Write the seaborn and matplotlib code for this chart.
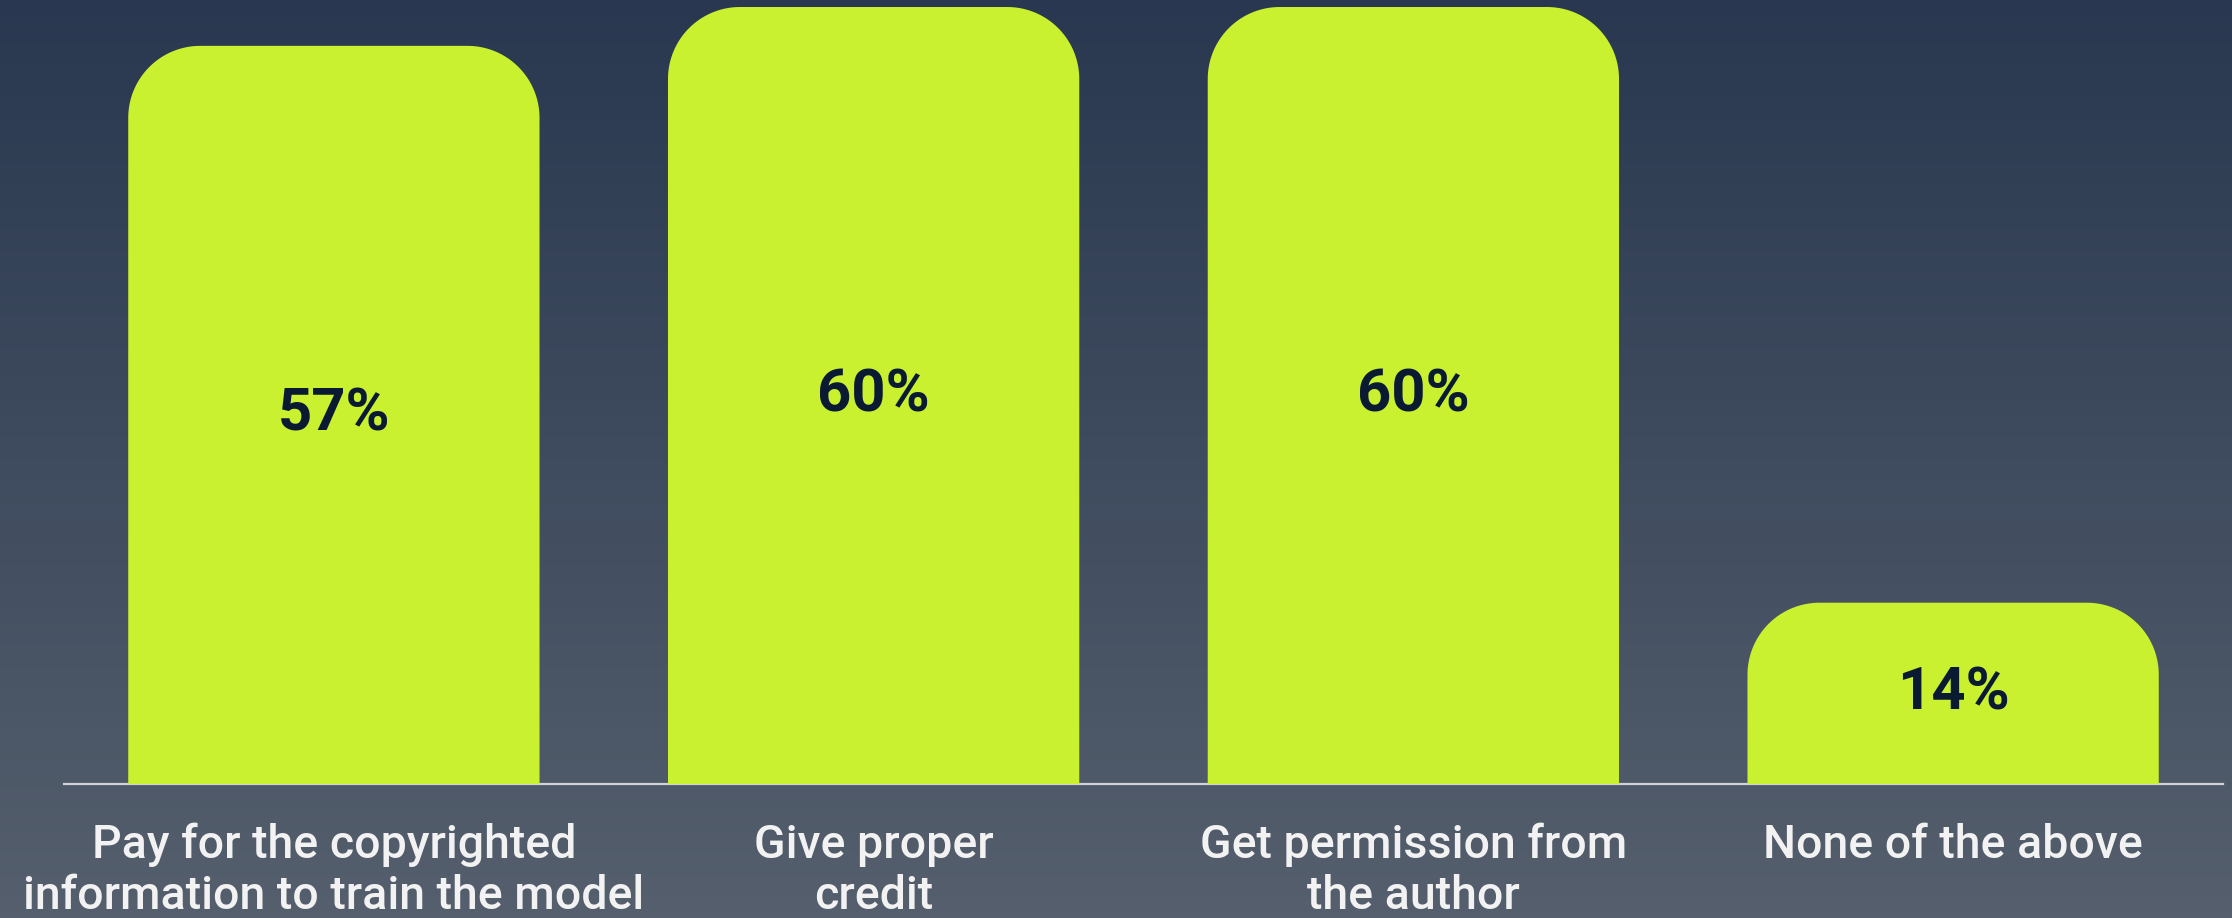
import numpy as np
import pandas as pd
import matplotlib
matplotlib.use("Agg")
import matplotlib.pyplot as plt
import seaborn as sns
from matplotlib.patches import Polygon

categories = ["Pay for the copyrighted\ninformation to train the model",
              "Give proper\ncredit",
              "Get permission from\nthe author",
              "None of the above"]
values = [57, 60, 60, 14]
value_labels = ["57%", "60%", "60%", "14%"]

BAR_COLOR = "#c9f12f"
TOP_BG = "#293850"
BOT_BG = "#555f6d"

sns.set_theme(style="white")
plt.rcParams['font.family'] = ['Roboto', 'DejaVu Sans']

W, H, DPI = 2232, 918, 100
fig = plt.figure(figsize=(W / DPI, H / DPI), dpi=DPI)

# gradient background
bg = fig.add_axes([0, 0, 1, 1], zorder=-10)
c1 = np.array(matplotlib.colors.to_rgb(TOP_BG))
c2 = np.array(matplotlib.colors.to_rgb(BOT_BG))
t = np.linspace(0, 1, 256)[:, None]
grad = (c1[None, :] * (1 - t) + c2[None, :] * t)[:, None, :]
bg.imshow(grad, aspect="auto", extent=[0, 1, 0, 1])
bg.set_axis_off()

left, right = 64 / W, 2223 / W
bottom, top = 1 - 784 / H, 1 - 7 / H
ax = fig.add_axes([left, bottom, right - left, top - bottom])
ax.patch.set_alpha(0)

df = pd.DataFrame({"cat": categories, "val": values})
sns.barplot(data=df, x="cat", y="val", color=BAR_COLOR, width=0.762,
            saturation=1, ax=ax)
ax.set_xlim(-0.5, 3.5)
ax.set_ylim(0, 60)

# pixel scale for rounded corners
bbox = ax.get_window_extent()
px_per_x = bbox.width / 4.0
px_per_y = bbox.height / 60.0
radius_px = 72
rx = radius_px / px_per_x
ry = radius_px / px_per_y

for p in list(ax.patches):
    x0, w, h = p.get_x(), p.get_width(), p.get_height()
    p.set_visible(False)
    x1 = x0 + w
    th = np.linspace(0, np.pi / 2, 40)
    # top-right corner (from right side going up to top)
    tr = np.column_stack([x1 - rx + rx * np.cos(th), h - ry + ry * np.sin(th)])
    # top-left corner
    tl = np.column_stack([x0 + rx - rx * np.sin(th), h - ry + ry * np.cos(th)])
    verts = np.vstack([[x1, 0], tr, tl, [x0, 0]])
    poly = Polygon(verts, closed=True, facecolor=BAR_COLOR, edgecolor="none",
                   zorder=2)
    ax.add_patch(poly)

for i, (v, lab) in enumerate(zip(values, value_labels)):
    ax.text(i, v / 2, lab, ha="center", va="center",
            fontsize=43, fontweight="bold", color="#0b1a33",
            family=["Roboto", "DejaVu Sans"], zorder=3)

for s in ["top", "right", "left"]:
    ax.spines[s].set_visible(False)
ax.spines["bottom"].set_color("#cfd2d6")
ax.spines["bottom"].set_linewidth(1.6)
ax.spines["bottom"].set_zorder(1)
ax.set_yticks([])
ax.set_xlabel("")
ax.set_ylabel("")
ax.tick_params(axis="x", length=0, pad=28, labelsize=33.5, labelcolor="#f2f2f2")
for lbl in ax.get_xticklabels():
    lbl.set_linespacing(1.2)
    lbl.set_fontweight("medium")

fig.savefig("out.png", dpi=DPI)
